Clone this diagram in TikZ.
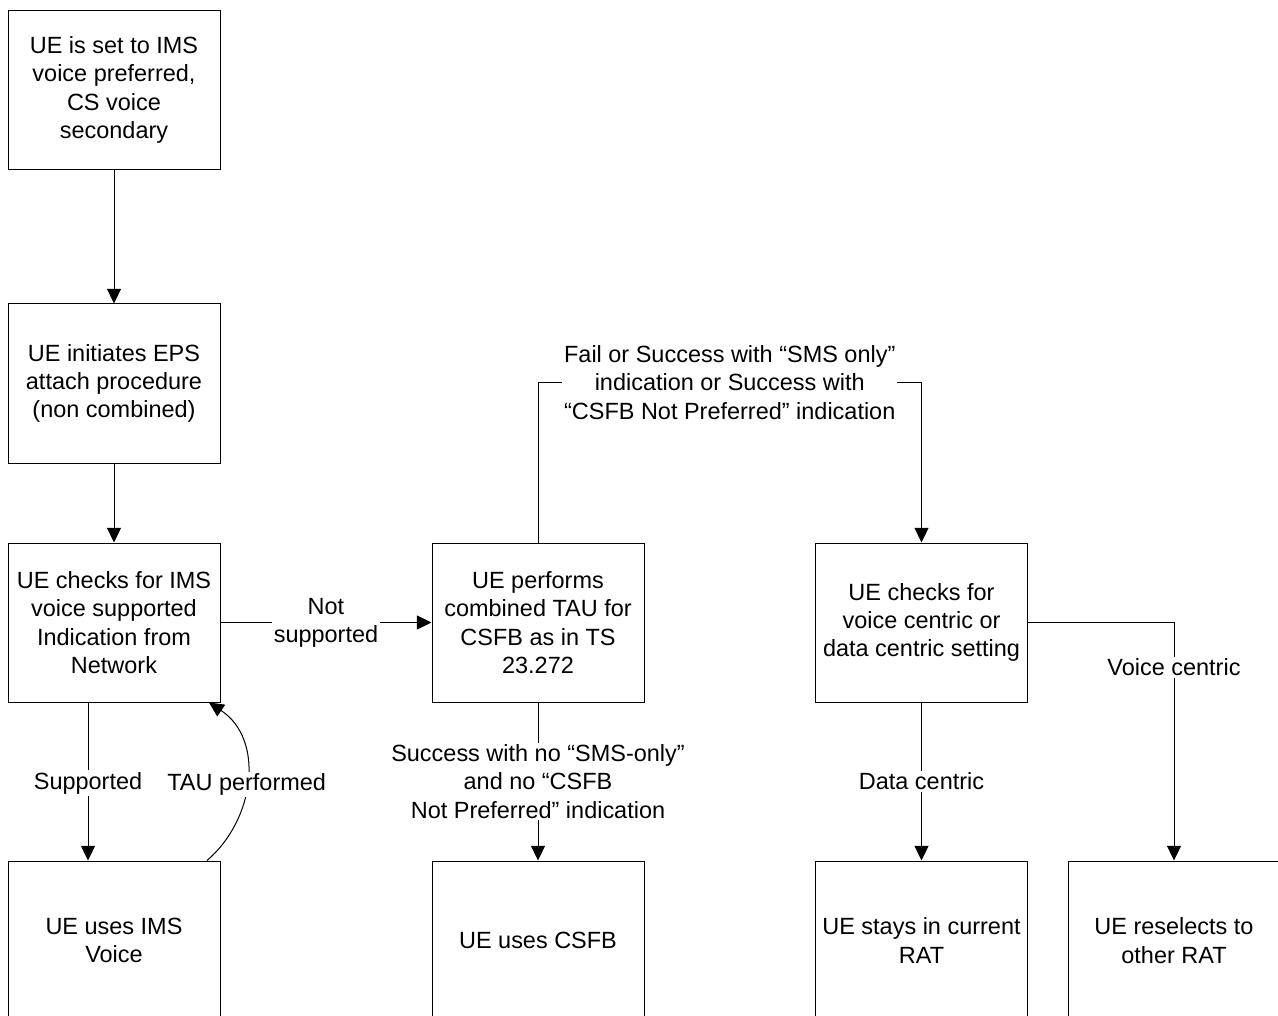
\documentclass[tikz,border=0pt]{standalone}
\usepackage{fontspec}
\setmainfont{Liberation Sans}
\usetikzlibrary{arrows.meta}
\begin{document}
\begin{tikzpicture}[x=0.75pt,y=-0.75pt,
  every node/.style={font={\fontsize{17.6pt}{21.2pt}\selectfont}},
  box/.style={draw, line width=0.75pt, minimum width=159pt, minimum height=119.25pt, align=center, inner sep=0pt},
  lbl/.style={fill=white, align=center, inner sep=1.5pt},
  arr/.style={line width=0.75pt, -{Triangle[length=11pt,width=10.5pt]}},
  conn/.style={line width=0.75pt}]
\useasboundingbox (0,0) rectangle (1278,1016);
\clip (0,0) rectangle (1278,1016);
\fill[white] (0,0) rectangle (1278,1016);
\node[box] (b1) at (114,90) {UE is set to IMS\\voice preferred,\\CS voice\\secondary};
\node[box] (b2) at (114,383.5) {UE initiates EPS\\attach procedure\\(non combined)};
\node[box] (b3) at (114,622.5) {UE checks for IMS\\voice supported\\Indication from\\Network};
\node[box] (b4) at (538,622.5) {UE performs\\combined TAU for\\CSFB as in TS\\23.272};
\node[box] (b5) at (921.5,622.5) {UE checks for\\voice centric or\\data centric setting};
\node[box] (b6) at (114,940.5) {UE uses IMS\\Voice};
\node[box] (b7) at (538,940.5) {UE uses CSFB};
\node[box] (b8) at (921.5,940.5) {UE stays in current\\RAT};
\node[box] (b9) at (1174,940.5) {UE reselects to\\other RAT};
\coordinate (xs) at (88,0);
\coordinate (xa) at (207,0);
\coordinate (xb) at (209,0);
\draw[arr] (b1) -- (b2);
\draw[arr] (b2) -- (b3);
\draw[arr] (b3) -- node[lbl] {Not\\supported} (b4);
\draw[arr] (b3.south -| xs) -- node[lbl,pos=0.51] {Supported} (b6.north -| xs);
\draw[arr] (b6.north -| xa) .. controls +(48,-41) and +(56,37) .. node[lbl,pos=0.475] {TAU performed} (b3.south -| xb);
\draw[arr] (b4.north) -- ++(0,-160) -| node[lbl,pos=0.25] {Fail or Success with “SMS only”\\indication or Success with\\“CSFB Not Preferred” indication} (b5.north);
\draw[arr] (b4) -- node[lbl] {Success with no “SMS-only”\\and no “CSFB\\Not Preferred” indication} (b7);
\draw[arr] (b5) -- node[lbl] {Data centric} (b8);
\draw[arr] (b5.east) -| node[lbl,pos=0.594] {Voice centric} (b9.north);
\end{tikzpicture}
\end{document}
